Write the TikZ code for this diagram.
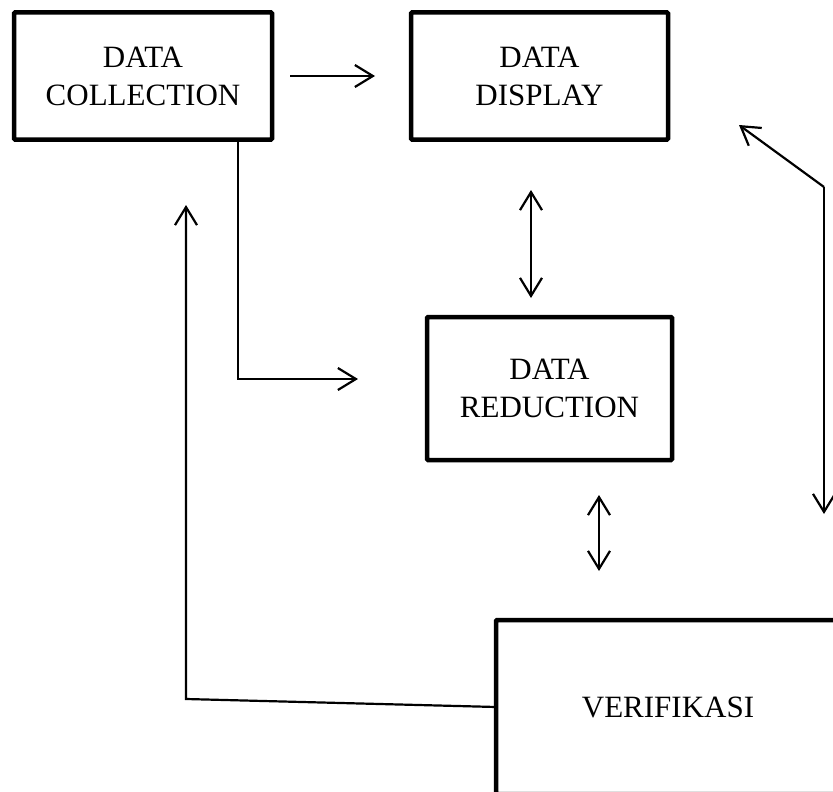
\documentclass[tikz,border=0pt]{standalone}
\usepackage{fontspec}
\setmainfont{Liberation Serif}
\usetikzlibrary{arrows.meta}
\begin{document}
\begin{tikzpicture}[x=1pt,y=-1pt,
  stage/.style={draw, line width=4.5pt, rounded corners=1pt, align=center,
    font=\fontsize{31pt}{38pt}\selectfont, inner sep=0pt},
  link/.style={line width=2.2pt},
  tip/.style={Straight Barb[length=18pt,width=22pt,line width=2.2pt]},
  arr/.style={link, -{Straight Barb[length=18pt,width=22pt,line width=2.2pt]}},
  dblarr/.style={link, {Straight Barb[length=18pt,width=22pt,line width=2.2pt]}-{Straight Barb[length=18pt,width=22pt,line width=2.2pt]}}]
\useasboundingbox (0,0) rectangle (833,792);
\clip (0,0) rectangle (833,792);

% stages
\node[stage, minimum width=258pt, minimum height=127pt] (coll) at (143,76) {DATA\\COLLECTION};
\node[stage, minimum width=257pt, minimum height=127pt] (disp) at (539.5,76) {DATA\\DISPLAY};
\node[stage, minimum width=245pt, minimum height=143pt] (red) at (549.5,388.5) {DATA\\REDUCTION};
\node[stage, minimum width=344pt, minimum height=174pt] (ver) at (668,707) {VERIFIKASI};

% collection -> display
\coordinate (a1) at (290,76);
\coordinate (a2) at (375,76);
\draw[arr] (a1) -- (a2);

% collection -> reduction
\coordinate (b0) at (238,139);
\coordinate (b1) at (238,379);
\coordinate (b2) at (358,379);
\draw[arr] (b0) -- (b1) -- (b2);

% display <-> reduction
\coordinate (c1) at (531,190);
\coordinate (c2) at (531,298);
\draw[dblarr] (c1) -- (c2);

% reduction <-> verifikasi
\coordinate (d1) at (599,495);
\coordinate (d2) at (599,571);
\draw[dblarr] (d1) -- (d2);

% display <-> right side
\coordinate (e1) at (739,125);
\coordinate (e0) at (824,187);
\coordinate (e2) at (824,514);
\draw[arr] (e0) -- (e1);
\draw[arr] (e0) -- (e2);

% verifikasi -> collection
\coordinate (f0) at (496,707);
\coordinate (f1) at (186,699);
\coordinate (f2) at (186,205);
\draw[arr] (f0) -- (f1) -- (f2);
\end{tikzpicture}
\end{document}
